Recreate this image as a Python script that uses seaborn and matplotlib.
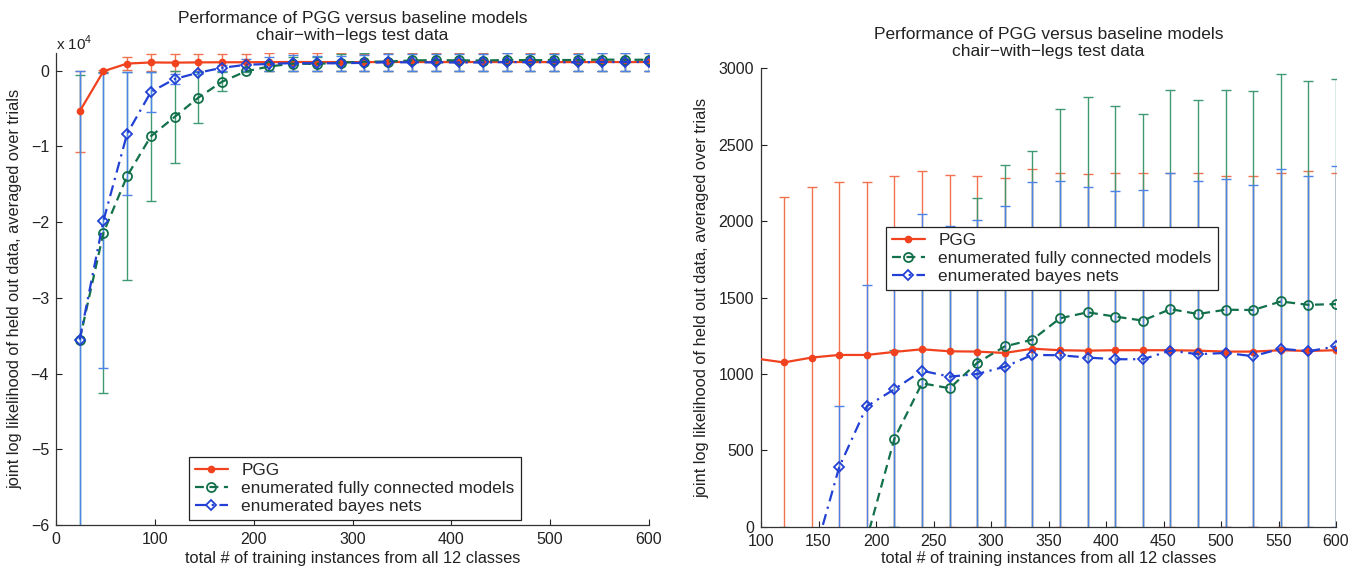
import matplotlib
matplotlib.use("Agg")
import matplotlib.pyplot as plt
import seaborn as sns
from matplotlib.ticker import FuncFormatter, FixedLocator

# ---------------- data ----------------
n_train = [24, 48, 72, 96, 120, 144, 168, 192, 216, 240, 264, 288, 312,
           336, 360, 384, 408, 432, 456, 480, 504, 528, 552, 576, 600]

pgg_mean = [-5350, -60, 950, 1100, 1075, 1107, 1124, 1124, 1144, 1161, 1148, 1146, 1137,
            1165, 1155, 1152, 1155, 1155, 1155, 1152, 1146, 1146, 1155, 1150, 1155]
pgg_err = [5350, 120, 900, 1105, 1085, 1114, 1134, 1131, 1150, 1169, 1153, 1151, 1142,
           1176, 1160, 1158, 1161, 1162, 1160, 1161, 1151, 1151, 1160, 1178, 1162]

full_mean = [-35500, -21400, -13900, -8650, -6100, -3550, -1450, -80, 576, 939, 906, 1072, 1180,
             1224, 1364, 1403, 1375, 1349, 1424, 1392, 1420, 1418, 1474, 1452, 1457]
full_err = [35000, 21200, 13800, 8500, 6100, 3400, 1250, 60, 580, 945, 912, 1078, 1186,
            1232, 1370, 1409, 1380, 1355, 1436, 1398, 1436, 1433, 1487, 1465, 1471]

bayes_mean = [-35500, -19800, -8300, -2800, -1090, -250, 390, 788, 900, 1021, 982, 999, 1047,
              1124, 1122, 1107, 1096, 1096, 1152, 1129, 1137, 1116, 1165, 1148, 1180]
bayes_err = [35500, 19500, 8100, 2650, 650, 230, 400, 795, 905, 1027, 988, 1005, 1053,
             1132, 1143, 1114, 1103, 1107, 1161, 1136, 1139, 1120, 1174, 1150, 1182]

series_labels = ["PGG", "enumerated fully connected models", "enumerated bayes nets"]
title_text = "Performance of PGG versus baseline models\nchair\u2212with\u2212legs test data"
xlabel_text = "total # of training instances from all 12 classes"
ylabel_text = "joint log likelihood of held out data, averaged over trials"

left_xticks = [0, 100, 200, 300, 400, 500, 600]
left_yticks = [-60000, -50000, -40000, -30000, -20000, -10000, 0]
right_xticks = [100, 150, 200, 250, 300, 350, 400, 450, 500, 550, 600]
right_yticks = [0, 500, 1000, 1500, 2000, 2500, 3000]

# ---------------- style ----------------
sns.set_theme(style="ticks")
plt.rcParams['font.family'] = ['Liberation Sans', 'DejaVu Sans']
plt.rcParams['mathtext.fontset'] = 'custom'
plt.rcParams['mathtext.rm'] = 'Liberation Sans'
plt.rcParams['axes.unicode_minus'] = True

RED, RED_E = "#f0421e", "#f2714f"
GREEN, GREEN_E = "#12704a", "#3f9a74"
BLUE, BLUE_E = "#2240d4", "#4d84ea"

fig = plt.figure(figsize=(13.6, 5.71), dpi=100)
W, H = 1360, 571
axL = fig.add_axes([56 / W, 1 - 525 / H, 593 / W, (525 - 52.6) / H])
axR = fig.add_axes([761 / W, 1 - 526.7 / H, 575 / W, (526.7 - 68.3) / H])


def draw(ax):
    for mean, err, ecol in [(pgg_mean, pgg_err, RED_E),
                            (full_mean, full_err, GREEN_E),
                            (bayes_mean, bayes_err, BLUE_E)]:
        ax.errorbar(n_train, mean, yerr=err, fmt='none', ecolor=ecol,
                    elinewidth=1.0, capsize=3.6, capthick=1.0, zorder=2)
    handles = []
    specs = [
        (pgg_mean, RED, 'o', RED, '-', 4.2, series_labels[0]),
        (full_mean, GREEN, 'o', 'none', (0, (4, 2.5)), 6.5, series_labels[1]),
        (bayes_mean, BLUE, 'D', 'none', (0, (5, 2.5, 1, 2.5)), 5.5, series_labels[2]),
    ]
    for mean, col, mk, mfc, ls, ms, lab in specs:
        n0 = len(ax.lines)
        sns.lineplot(x=n_train, y=mean, ax=ax, color=col, marker=mk,
                     markerfacecolor=mfc, markeredgecolor=col, markeredgewidth=1.3,
                     markersize=ms, linestyle=ls, linewidth=1.6, label=lab,
                     zorder=4, errorbar=None, sort=False)
        handles.append(ax.lines[n0])
    return handles


hL = draw(axL)
hR = draw(axR)

for ax in (axL, axR):
    sns.despine(ax=ax)
    for s in ('left', 'bottom'):
        ax.spines[s].set_color('#333333')
        ax.spines[s].set_linewidth(0.9)
    ax.tick_params(direction='in', length=4, width=0.8, labelsize=11.5, pad=5,
                   colors='#222222')
    ax.set_title(title_text, fontsize=12.5, pad=9, linespacing=1.15, color='#222222')
    ax.set_xlabel(xlabel_text, fontsize=11.8, color='#222222')
    ax.set_ylabel(ylabel_text, fontsize=11.8, color='#222222')

axL.set_xlim(0, 600)
axL.set_ylim(-60000, 2400)
axL.xaxis.set_major_locator(FixedLocator(left_xticks))
axL.yaxis.set_major_locator(FixedLocator(left_yticks))
axL.yaxis.set_major_formatter(FuncFormatter(lambda v, p: f"{v / 1e4:g}".replace('-', '\u2212')))
fig.text(56 / W, 1 - 43 / H, r"x 10$^4$", fontsize=11, va='center', ha='left', color='#222222')

axR.set_xlim(100, 600)
axR.set_ylim(0, 3000)
axR.xaxis.set_major_locator(FixedLocator(right_xticks))
axR.yaxis.set_major_locator(FixedLocator(right_yticks))

axL.xaxis.set_label_coords(0.5, -0.055)
axR.xaxis.set_label_coords(0.5, -0.053)
axL.yaxis.set_label_coords(-0.056, 0.5)
axR.yaxis.set_label_coords(-0.089, 0.5)

leg_kw = dict(frameon=True, fancybox=False, edgecolor='#222222', framealpha=1,
              fontsize=12.4, handlelength=1.9, labelspacing=0.15, borderpad=0.35,
              handletextpad=0.8, borderaxespad=0)
legL = axL.legend(handles=hL, labels=series_labels, loc='lower left',
                  bbox_to_anchor=(0.224, 0.011), **leg_kw)
legR = axR.legend(handles=hR, labels=series_labels, loc='upper left',
                  bbox_to_anchor=(0.217, 0.653), **leg_kw)
for lg in (legL, legR):
    lg.get_frame().set_linewidth(0.9)
    lg.set_zorder(10)

fig.savefig("out.png", dpi=100)
